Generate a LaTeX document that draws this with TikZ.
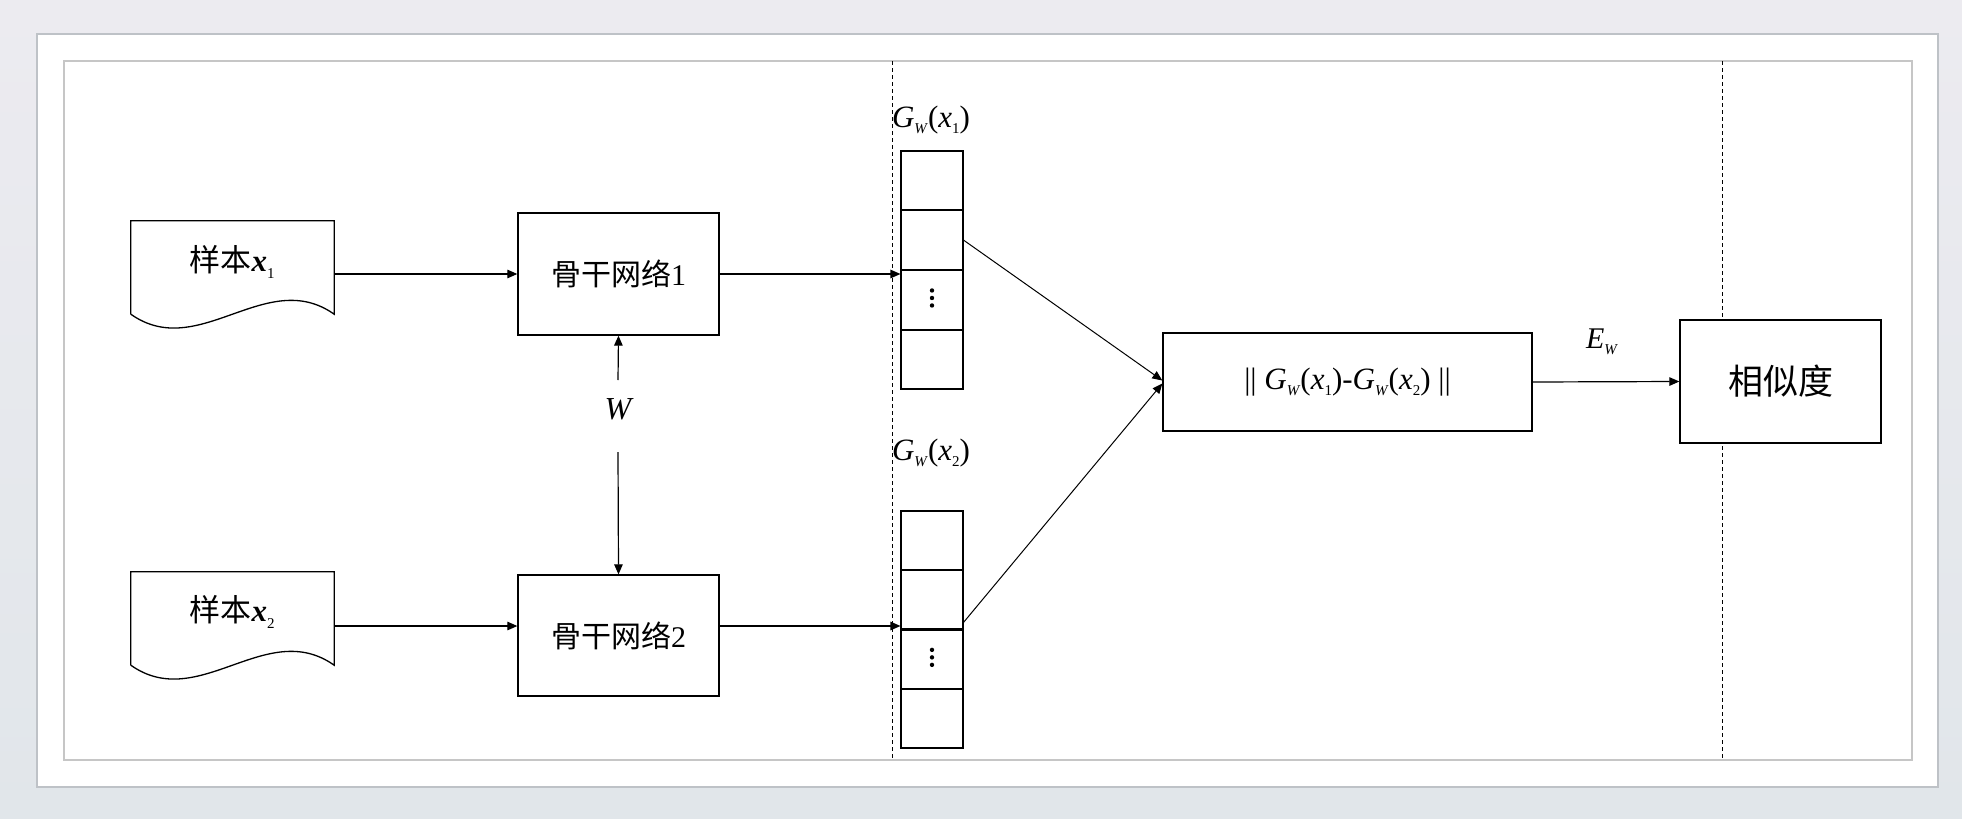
\documentclass[tikz,border=0pt]{standalone}
\usepackage{fontspec}
\setmainfont{Liberation Serif}
\newfontfamily\cjk{Noto Sans CJK SC}
\usetikzlibrary{arrows.meta,calc}
\definecolor{bgA}{HTML}{ECEBF0}
\definecolor{bgB}{HTML}{E1E6EA}
\definecolor{frameO}{HTML}{BEC2C7}
\definecolor{frameI}{HTML}{C6C6C6}
\newcommand\sbs[1]{\raisebox{-0.2em}{\fontsize{15}{15}\selectfont #1}}
\newcommand\Gw[1]{\textit{G}\sbs{\textit{W}}(\textit{x}\sbs{#1})}
\begin{document}
\begin{tikzpicture}[x=1pt,y=-1pt,
  box/.style={draw,line width=1.3pt,fill=white,inner sep=0pt},
  vec/.style={draw,line width=1.1pt,fill=white,inner sep=0pt,minimum width=62pt},
  arr/.style={line width=1.2pt,-{Triangle[length=10pt,width=8.5pt]}},
  thinarr/.style={line width=1pt,-{Triangle[length=10pt,width=8.5pt]}},
  lbl/.style={inner sep=0pt,font=\fontsize{31}{36}\selectfont},
  sep/.style={line width=1pt,dash pattern=on 4pt off 3pt},
  wave/.style={line width=1.3pt}
]
\useasboundingbox (0,0) rectangle (1962,819);
\shade[top color=bgA, bottom color=bgB] (0,0) rectangle (1962,819);
\draw[frameO, fill=white, line width=1.5pt] (37,34) rectangle (1938,787);
\draw[frameI, line width=1.2pt] (64,61) rectangle (1912,760);
\draw[sep] (892,61) -- (892,760);
\draw[sep] (1722,61) -- (1722,760);

% documents
\node[inner sep=0pt, minimum width=203pt, minimum height=93pt] (d1) at (232.5,267.5) {};
\node[inner sep=0pt, minimum width=203pt, minimum height=93pt] (d2) at (232.5,618.5) {};
\foreach \d in {d1,d2}{
  \draw[wave] (\d.south west) -- (\d.north west) -- (\d.north east) -- (\d.south east)
    .. controls ($(\d.south east)+(-68,-48)$) and ($(\d.south west)+(68,48)$) .. (\d.south west);
}
\node[lbl] (t1) at (232,262) {{\cjk 样本}\textbf{\textit{x}}\sbs{1}};
\node[lbl] (t2) at (232,612) {{\cjk 样本}\textbf{\textit{x}}\sbs{2}};

% backbone boxes
\node[box, minimum width=201pt, minimum height=122pt, font=\fontsize{30}{36}\selectfont] (b1) at (618.5,274) {{\cjk 骨干网络}1};
\node[box, minimum width=201pt, minimum height=121pt, font=\fontsize{30}{36}\selectfont] (b2) at (618.5,635.5) {{\cjk 骨干网络}2};

% W
\node[lbl, font=\fontsize{32}{36}\selectfont\itshape] (w) at (618,409) {W};
\coordinate (wt) at (618,380);
\coordinate (wb) at (618,452);
\draw[arr] (wt) -- (b1.south);
\draw[arr] (wb) -- (b2.north);

% vectors
\node[vec, minimum height=238pt] (v1) at (932,270) {};
\node[vec, minimum height=237pt] (v2) at (932,629.5) {};
\foreach \v in {v1,v2}{
  \foreach \f in {0.25,0.5,0.75}{
    \draw[line width=2.2pt] ($(\v.north west)!\f!(\v.south west)$) -- ($(\v.north east)!\f!(\v.south east)$);
  }
  \coordinate (\v c) at ($(\v.north)!0.617!(\v.south)$);
  \fill ($(\v c)+(0,-7.5)$) circle (2.2pt);
  \fill (\v c) circle (2.2pt);
  \fill ($(\v c)+(0,7.5)$) circle (2.2pt);
}
\node[lbl] (g1) at (931,120) {\Gw{1}};
\node[lbl] (g2) at (931,453) {\Gw{2}};

% difference and similarity
\node[box, minimum width=369pt, minimum height=98pt, font=\fontsize{31}{36}\selectfont] (diff) at (1347.5,382)
  {|| \Gw{1}-\Gw{2} ||};
\node[box, minimum width=201pt, minimum height=123pt, font=\fontsize{35}{40}\selectfont] (sim) at (1780.5,381.5) {\cjk 相似度};
\node[lbl, font=\fontsize{30}{34}\selectfont] (ew) at (1602,342) {\textit{E}\sbs{\textit{W}}};

% connectors
\coordinate (a2) at ([yshift=-7.5pt]d2.east);
\draw[arr] (d1.east |- b1.west) -- (b1.west);
\draw[arr] (a2) -- (a2 -| b2.west);
\draw[arr] (b1.east) -- (v1.west |- b1.east);
\draw[arr] (b2.east |- a2) -- (v2.west |- a2);
\draw[thinarr] ($(v1.north east)!0.375!(v1.south east)$) -- ([yshift=1.5pt]diff.west);
\draw[thinarr] ($(v2.north east)!0.47!(v2.south east)$) -- ([yshift=-1.5pt]diff.west);
\draw[arr] (diff.east) -- (sim.west);
\end{tikzpicture}
\end{document}
